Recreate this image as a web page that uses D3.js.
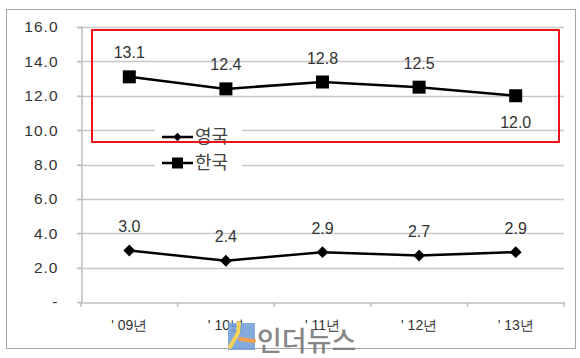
<!DOCTYPE html>
<html><head><meta charset="utf-8">
<script src="https://cdn.jsdelivr.net/npm/d3@7"></script>
<style>body{margin:0;background:#fff}svg{display:block}</style>
</head><body>
<svg id="c" width="580" height="358"></svg>
<script>
const categories = ["'09년", "'10년", "'11년", "'12년", "'13년"];
const ukValues = [3.0, 2.4, 2.9, 2.7, 2.9];
const krValues = [13.1, 12.4, 12.8, 12.5, 12.0];
const yTicks = [0, 2, 4, 6, 8, 10, 12, 14, 16];
const seriesNames = ["영국", "한국"];
const krLabelBelow = [false, false, false, false, true];

const svg = d3.select("#c");
const font = "'Liberation Sans', Arial, sans-serif";
const m = {l: 81, r: 564, t: 27, b: 302};

// outer frame
svg.append("rect").attr("x", 6.5).attr("y", 9.5).attr("width", 569).attr("height", 339)
  .attr("fill", "#fff").attr("stroke", "#a6a6a6").attr("stroke-width", 1);

const x = d3.scaleBand().domain(categories).range([m.l, m.r]);
const y = d3.scaleLinear().domain([0, 16]).range([m.b, m.t]);

// gridlines
svg.append("g").selectAll("line").data(yTicks.filter(d => d > 0)).join("line")
  .attr("x1", m.l - 4).attr("x2", m.r).attr("y1", d => Math.round(y(d)) + 0.5).attr("y2", d => Math.round(y(d)) + 0.5)
  .attr("stroke", "#c8c8c8").attr("stroke-width", 1.5);

// y axis
const ya = svg.append("g").attr("transform", `translate(${m.l + 0.5},0)`)
  .call(d3.axisLeft(y).tickValues(yTicks).tickSize(4).tickPadding(19)
    .tickFormat(d => d === 0 ? "-" : d3.format(".1f")(d)));
ya.select(".domain").attr("stroke", "#bfbfbf").attr("stroke-width", 1.5);
ya.selectAll(".tick line").attr("stroke", "#bfbfbf").attr("stroke-width", 1.5);
ya.selectAll(".tick text").attr("font-family", font).attr("font-size", 15.5).attr("fill", "#333")
  .attr("letter-spacing", 1);

// x axis
const xa = svg.append("g").attr("transform", `translate(0,${Math.round(y(0)) + 0.5})`)
  .call(d3.axisBottom(x).tickSize(0).tickPadding(18).tickFormat(d => d.replace("'", "' ")));
xa.select(".domain").attr("stroke", "#bfbfbf").attr("stroke-width", 1.5);
xa.selectAll(".tick text").attr("font-family", font).attr("font-size", 14).attr("fill", "#333");
// category separators
svg.append("g").selectAll("line").data(d3.range(categories.length + 1)).join("line")
  .attr("x1", i => m.l + i * x.step()).attr("x2", i => m.l + i * x.step())
  .attr("y1", y(0)).attr("y2", y(0) + 5).attr("stroke", "#bfbfbf").attr("stroke-width", 1.5);

const cx = c => x(c) + x.bandwidth() / 2;
const line = d3.line().x((d, i) => cx(categories[i])).y(d => y(d));

// series lines
[ukValues, krValues].forEach(vals => {
  svg.append("path").datum(vals).attr("d", line).attr("fill", "none")
    .attr("stroke", "#000").attr("stroke-width", 2.5);
});

// markers
svg.append("g").selectAll("rect").data(krValues).join("rect")
  .attr("x", (d, i) => cx(categories[i]) - 6.5).attr("y", d => y(d) - 6.5)
  .attr("width", 13).attr("height", 13).attr("fill", "#000");
svg.append("g").selectAll("path").data(ukValues).join("path")
  .attr("d", d3.symbol().type(d3.symbolDiamond2).size(90))
  .attr("transform", (d, i) => `translate(${cx(categories[i])},${y(d)})`).attr("fill", "#000");

// data labels
const lab = (vals, below) => svg.append("g").selectAll("text").data(vals).join("text")
  .attr("x", (d, i) => cx(categories[i]))
  .attr("y", (d, i) => y(d) + (below && below[i] ? 27 : -24))
  .attr("dy", "0.35em").attr("text-anchor", "middle")
  .attr("font-family", font).attr("font-size", 16).attr("fill", "#333")
  .text(d => d3.format(".1f")(d));
lab(krValues, krLabelBelow);
lab(ukValues, null);

// legend
svg.append("rect").attr("x", 155).attr("y", 124).attr("width", 87).attr("height", 52).attr("fill", "#fff");
const lg = svg.append("g");
seriesNames.forEach((n, i) => {
  const yy = 137 + i * 26;
  lg.append("line").attr("x1", 162).attr("x2", 193).attr("y1", yy).attr("y2", yy)
    .attr("stroke", "#000").attr("stroke-width", 2.5);
  if (i === 0) {
    lg.append("path").attr("d", d3.symbol().type(d3.symbolDiamond2).size(45))
      .attr("transform", `translate(177.5,${yy})`).attr("fill", "#000");
  } else {
    lg.append("rect").attr("x", 172).attr("y", yy - 5.5).attr("width", 11).attr("height", 11).attr("fill", "#000");
  }
  lg.append("text").attr("x", 195).attr("y", yy).attr("dy", "0.36em")
    .attr("font-family", "'Noto Sans CJK KR', sans-serif").attr("font-size", 18).attr("fill", "#444").text(n);
});

// red highlight box
svg.append("rect").attr("x", 92).attr("y", 30).attr("width", 467).attr("height", 112)
  .attr("fill", "none").attr("stroke", "#e8131b").attr("stroke-width", 2);

// watermark
const wm = svg.append("g");
wm.append("rect").attr("x", 228).attr("y", 323).attr("width", 27).attr("height", 27).attr("fill", "#6f9bd8").attr("opacity", 0.85);
wm.append("path").attr("d", "M239,323 L238,333 L230,347").attr("fill", "none").attr("stroke", "#f5d35a").attr("stroke-width", 4).attr("stroke-linecap", "round");
wm.append("path").attr("d", "M240,339 L254,341").attr("fill", "none").attr("stroke", "#f0a050").attr("stroke-width", 4).attr("stroke-linecap", "round");
wm.append("text").attr("x", 257).attr("y", 341).attr("dy", "0.36em")
  .attr("font-family", "'Noto Sans CJK KR', sans-serif").attr("font-size", 27).attr("font-weight", 500)
  .attr("fill", "#7a7a7a").attr("opacity", 0.9).text("인더뉴스");
</script>
</body></html>
